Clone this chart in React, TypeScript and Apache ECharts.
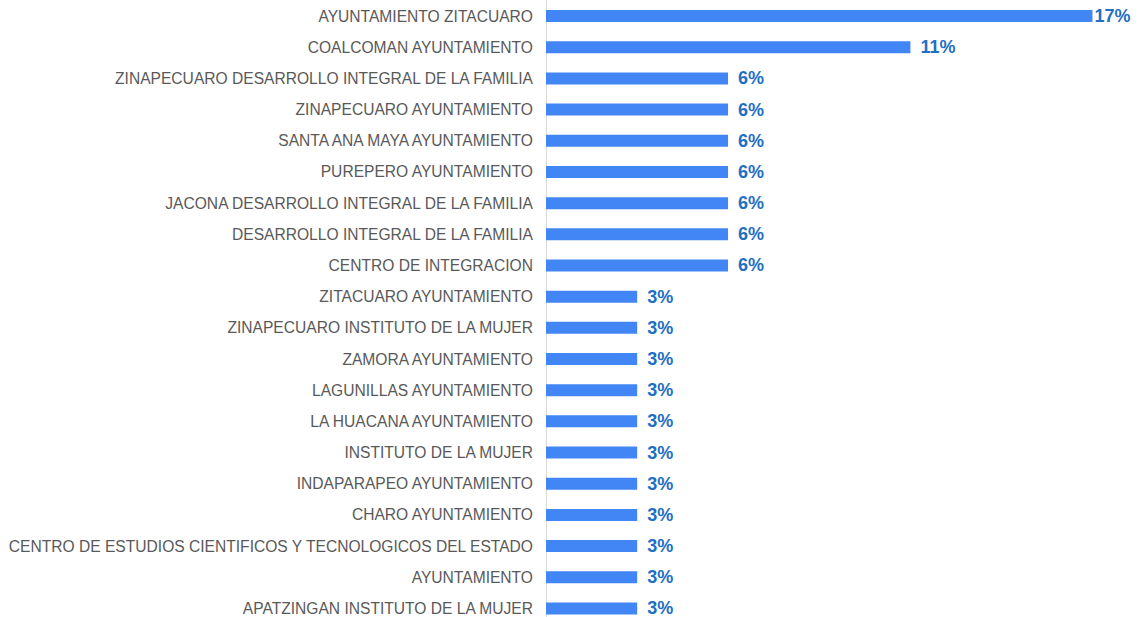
import React, { useEffect, useRef } from "react";
import * as echarts from "echarts";

const categories = [
  "AYUNTAMIENTO ZITACUARO",
  "COALCOMAN AYUNTAMIENTO",
  "ZINAPECUARO DESARROLLO INTEGRAL DE LA FAMILIA",
  "ZINAPECUARO AYUNTAMIENTO",
  "SANTA ANA MAYA AYUNTAMIENTO",
  "PUREPERO AYUNTAMIENTO",
  "JACONA DESARROLLO INTEGRAL DE LA FAMILIA",
  "DESARROLLO INTEGRAL DE LA FAMILIA",
  "CENTRO DE INTEGRACION",
  "ZITACUARO AYUNTAMIENTO",
  "ZINAPECUARO INSTITUTO DE LA MUJER",
  "ZAMORA AYUNTAMIENTO",
  "LAGUNILLAS AYUNTAMIENTO",
  "LA HUACANA AYUNTAMIENTO",
  "INSTITUTO DE LA MUJER",
  "INDAPARAPEO AYUNTAMIENTO",
  "CHARO AYUNTAMIENTO",
  "CENTRO DE ESTUDIOS CIENTIFICOS Y TECNOLOGICOS DEL ESTADO",
  "AYUNTAMIENTO",
  "APATZINGAN INSTITUTO DE LA MUJER",
];

const percentValues = [
  17.14, 11.43, 5.71, 5.71, 5.71, 5.71, 5.71, 5.71, 5.71, 2.86, 2.86, 2.86,
  2.86, 2.86, 2.86, 2.86, 2.86, 2.86, 2.86, 2.86,
];

export default function App() {
  const ref = useRef<HTMLDivElement>(null);
  useEffect(() => {
    if (!ref.current) return;
    const chart = echarts.init(ref.current, null, { renderer: "svg" });
    chart.setOption({
      animation: false,
      grid: { left: 546, right: 0, top: 0.5, bottom: 0, containLabel: false },
      xAxis: {
        type: "value",
        min: 0,
        max: 18.6,
        show: false,
      },
      yAxis: {
        type: "category",
        data: categories,
        inverse: true,
        axisLine: { show: true, lineStyle: { color: "#d9d9d9", width: 1 } },
        axisTick: { show: false },
        axisLabel: {
          margin: 13,
          color: "#595959",
          fontFamily: "'Liberation Sans', Arial, sans-serif",
          fontSize: 15.6,
        },
        splitLine: { show: false },
      },
      series: [
        {
          type: "bar",
          data: percentValues.map((v, i) =>
            i === 0 ? { value: v, label: { distance: 2 } } : v
          ),
          barWidth: 12,
          itemStyle: { color: "#4285f4" },
          label: {
            show: true,
            position: "right",
            distance: 10,
            color: "#1f6fc5",
            fontWeight: "bold",
            fontSize: 18,
            fontFamily: "'Liberation Sans', Arial, sans-serif",
            formatter: (p: any) => Math.round(p.value) + "%",
          },
        },
      ],
    });
    return () => chart.dispose();
  }, []);
  return (
    <div
      style={{
        position: "absolute",
        left: 0,
        top: 0,
        width: 1139,
        height: 617,
        overflow: "hidden",
      }}
    >
      <div ref={ref} style={{ width: 1139, height: 624 }} />
    </div>
  );
}
